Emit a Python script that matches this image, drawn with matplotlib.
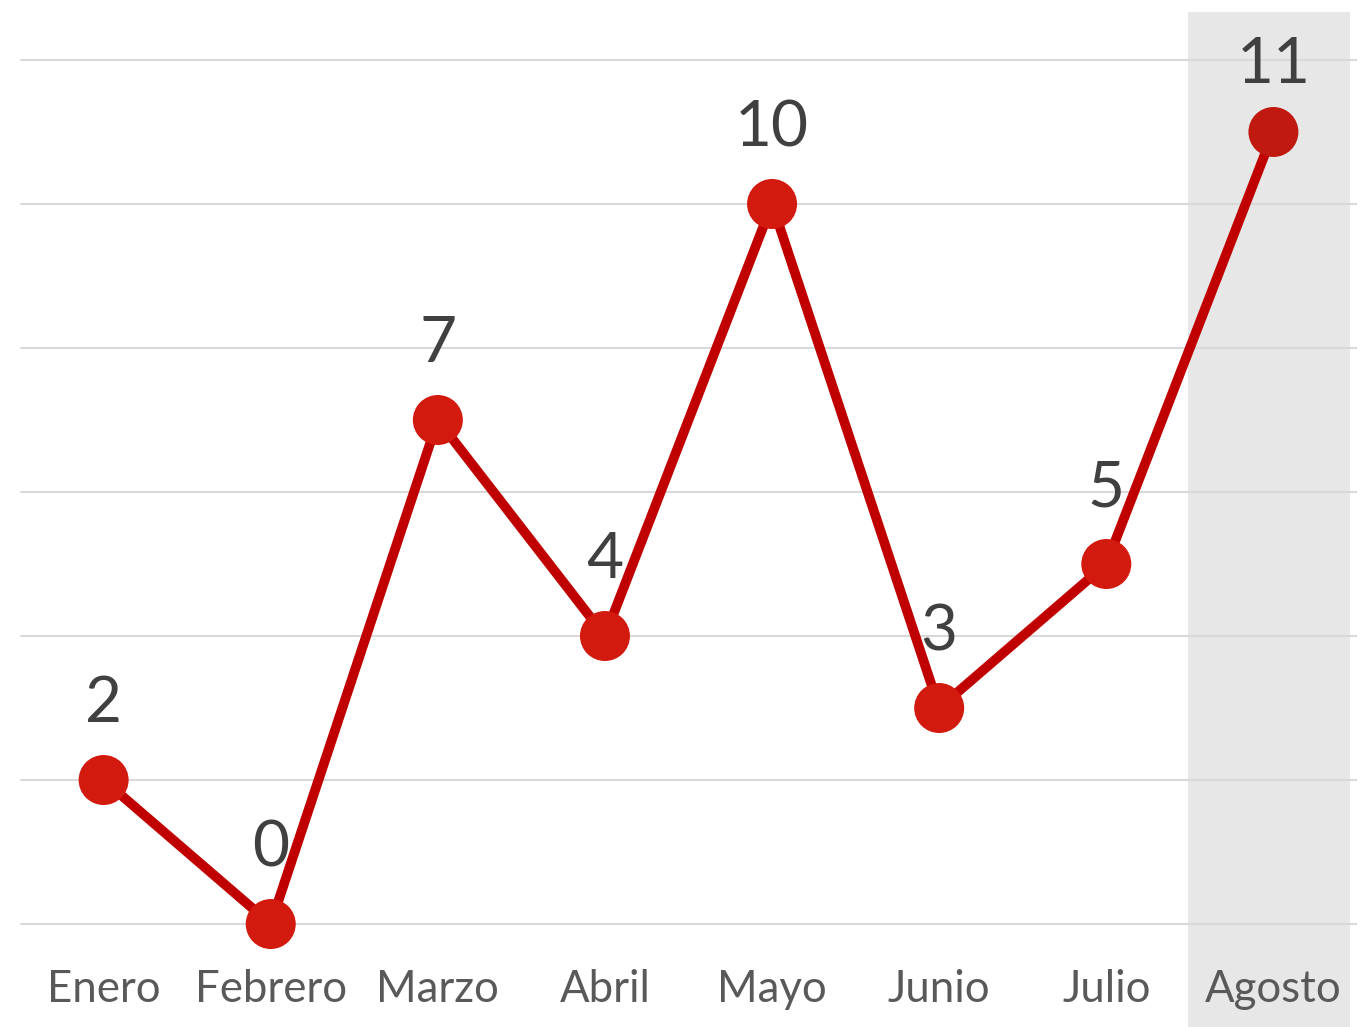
import matplotlib.pyplot as plt

months = ['Enero', 'Febrero', 'Marzo', 'Abril', 'Mayo', 'Junio', 'Julio', 'Agosto']
values = [2, 0, 7, 4, 10, 3, 5, 11]
gridlines = [0, 2, 4, 6, 8, 10, 12]
highlight = 7  # index of the highlighted month

plt.rcParams['font.family'] = ['Lato', 'DejaVu Sans']


def plot_chart():
    fig = plt.figure(figsize=(13.65, 10.27), dpi=100)
    ax = fig.add_axes([0, 0, 1, 1])
    ax.set_xlim(-0.62, 7.548)
    ax.set_ylim(-1.43, 12.833)
    ax.axis('off')

    x = list(range(len(months)))

    # highlight band behind the last month
    ax.fill_between([highlight - 0.51, highlight + 0.46], -1.5, 12.67,
                    color='#E7E7E7', zorder=0, linewidth=0)

    for g in gridlines:
        ax.hlines(g, -0.5, 7.5, color='#D9D9D9', linewidth=1.5, zorder=1)

    ax.plot(x, values, color='#C00000', linewidth=7, zorder=2,
            solid_capstyle='round')
    colors = ['#D31A0F'] * len(months)
    colors[highlight] = '#C01A10'
    ax.scatter(x, values, s=36 ** 2, c=colors, zorder=3, linewidths=0)

    # labels sit above the points, but not above the top gridline
    for xi, v in zip(x, values):
        ax.text(xi, min(v + 1.05, 11.93), str(v), ha='center', va='center',
                fontsize=46, color='#404040', zorder=4)

    for xi, m in zip(x, months):
        ax.text(xi, -0.91, m, ha='center', va='center',
                fontsize=31.5, color='#595959', zorder=4)

    fig.savefig('out.png', dpi=100)


if __name__ == '__main__':
    plot_chart()
